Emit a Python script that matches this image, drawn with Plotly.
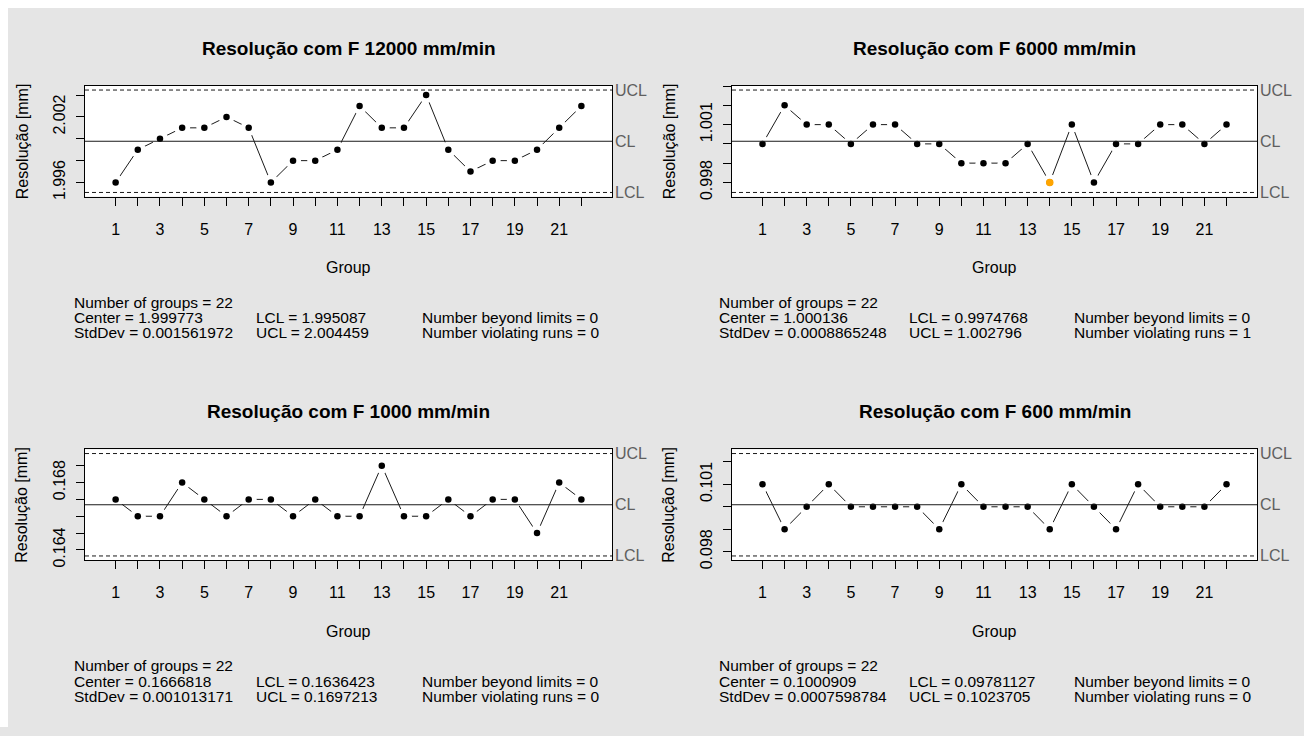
import plotly.graph_objects as go

W, H = 1304, 736

# ---------------- data ----------------
groups = list(range(1, 23))
xtick_text = ["1", "", "3", "", "5", "", "7", "", "9", "", "11", "", "13", "", "15", "", "17", "", "19", "", "21", ""]

titles = ["Resolução com F 12000 mm/min", "Resolução com F 6000 mm/min",
          "Resolução com F 1000 mm/min", "Resolução com F 600 mm/min"]

res_12000 = [1.996, 1.999, 2.000, 2.001, 2.001, 2.002, 2.001, 1.996, 1.998, 1.998, 1.999,
             2.003, 2.001, 2.001, 2.004, 1.999, 1.997, 1.998, 1.998, 1.999, 2.001, 2.003]
res_6000 = [1.000, 1.002, 1.001, 1.001, 1.000, 1.001, 1.001, 1.000, 1.000, 0.999, 0.999,
            0.999, 1.000, 0.998, 1.001, 0.998, 1.000, 1.000, 1.001, 1.001, 1.000, 1.001]
res_1000 = [0.167, 0.166, 0.166, 0.168, 0.167, 0.166, 0.167, 0.167, 0.166, 0.167, 0.166,
            0.166, 0.169, 0.166, 0.166, 0.167, 0.166, 0.167, 0.167, 0.165, 0.168, 0.167]
res_600 = [0.101, 0.099, 0.100, 0.101, 0.100, 0.100, 0.100, 0.100, 0.099, 0.101, 0.100,
           0.100, 0.100, 0.099, 0.101, 0.100, 0.099, 0.101, 0.100, 0.100, 0.100, 0.101]

violating_groups = [[], [14], [], []]

centers = [1.999773, 1.000136, 0.1666818, 0.1000909]
lcls = [1.995087, 0.9974768, 0.1636423, 0.09781127]
ucls = [2.004459, 1.002796, 0.1697213, 0.1023705]
stddevs = [0.001561972, 0.0008865248, 0.001013171, 0.0007598784]
n_beyond = [0, 0, 0, 0]
n_violating = [0, 1, 0, 0]

ytick_vals_12000 = [1.996, 1.998, 2.000, 2.002, 2.004]
ytick_text_12000 = ["1.996", "", "", "2.002", ""]
ytick_vals_6000 = [0.998, 0.999, 1.000, 1.001, 1.002, 1.003]
ytick_text_6000 = ["0.998", "", "", "1.001", "", ""]
ytick_vals_1000 = [0.164, 0.165, 0.166, 0.167, 0.168, 0.169]
ytick_text_1000 = ["0.164", "", "", "", "0.168", ""]
ytick_vals_600 = [0.098, 0.099, 0.100, 0.101, 0.102]
ytick_text_600 = ["0.098", "", "", "0.101", ""]

series = [res_12000, res_6000, res_1000, res_600]
ytick_vals = [ytick_vals_12000, ytick_vals_6000, ytick_vals_1000, ytick_vals_600]
ytick_texts = [ytick_text_12000, ytick_text_6000, ytick_text_1000, ytick_text_600]

# ---------------- layout geometry (pixels) ----------------
boxes = [(85, 612, 87, 199), (732, 1257, 87, 199), (85, 612, 455, 567), (732, 1257, 455, 567)]
stat_cols = [(72, 254, 420), (717, 907, 1072), (72, 254, 420), (717, 907, 1072)]

FONT = "Arial, 'Liberation Sans', sans-serif"
BG = "#E5E5E5"
GRAY = "#5f5f5f"


def fx(px):
    return px / W


def fy(py):
    return 1 - py / H


fig = go.Figure()
annotations = []
shapes = []
layout_axes = {}

for i in range(4):
    k = "" if i == 0 else str(i + 1)
    xa, ya = "x" + k, "y" + k
    x0, x1, y0, y1 = boxes[i]
    vals = series[i]
    lo = min(min(vals), lcls[i])
    hi = max(max(vals), ucls[i])
    pad = 0.04 * (hi - lo)
    nx = len(groups)
    xpad = 0.04 * nx

    # connecting lines
    fig.add_trace(go.Scatter(x=groups, y=vals, mode="lines", xaxis=xa, yaxis=ya,
                             line=dict(color="#1a1a1a", width=1), hoverinfo="skip",
                             showlegend=False))
    # white halo to create R type="b" gaps
    fig.add_trace(go.Scatter(x=groups, y=vals, mode="markers", xaxis=xa, yaxis=ya,
                             marker=dict(color="white", size=16, line=dict(width=0)),
                             hoverinfo="skip", showlegend=False))
    # points
    fig.add_trace(go.Scatter(x=groups, y=vals, mode="markers", xaxis=xa, yaxis=ya,
                             marker=dict(color="black", size=6.5, line=dict(width=0)),
                             showlegend=False))
    if violating_groups[i]:
        vx = violating_groups[i]
        vy = [vals[g - 1] for g in vx]
        fig.add_trace(go.Scatter(x=vx, y=vy, mode="markers", xaxis=xa, yaxis=ya,
                                 marker=dict(color="#FFA500", size=7.5, line=dict(width=0)),
                                 showlegend=False))

    layout_axes["xaxis" + k] = dict(
        domain=[fx(x0), fx(x1)], anchor=ya, range=[0.5 - xpad, nx + 0.5 + xpad],
        tickmode="array", tickvals=groups, ticktext=xtick_text,
        ticks="outside", ticklen=8, tickcolor="black", tickwidth=1,
        showline=True, mirror=True, linecolor="black", linewidth=1,
        showgrid=False, zeroline=False, tickfont=dict(family=FONT, size=16, color="black"),
        ticklabelstandoff=10, fixedrange=True)
    layout_axes["yaxis" + k] = dict(
        domain=[fy(y1), fy(y0)], anchor=xa, range=[lo - pad, hi + pad],
        tickmode="array", tickvals=ytick_vals[i], ticktext=ytick_texts[i], tickangle=-90,
        ticks="outside", ticklen=8, tickcolor="black", tickwidth=1,
        showline=True, mirror=True, linecolor="black", linewidth=1,
        showgrid=False, zeroline=False, tickfont=dict(family=FONT, size=16, color="black"),
        ticklabelstandoff=5, fixedrange=True)

    # control lines
    for val, dash in ((ucls[i], "4px,3px"), (lcls[i], "4px,3px"), (centers[i], "solid")):
        shapes.append(dict(type="line", xref=xa + " domain", x0=0, x1=1, yref=ya, y0=val, y1=val,
                           line=dict(color="#1a1a1a", width=1, dash=dash), layer="above"))
    for val, lab in ((ucls[i], "UCL"), (centers[i], "CL"), (lcls[i], "LCL")):
        annotations.append(dict(text=lab, xref="paper", x=fx(x1 + 1), xanchor="left",
                                yref=ya, y=val, yanchor="middle", showarrow=False,
                                font=dict(family=FONT, size=16, color=GRAY)))

    cx = (x0 + x1) / 2
    # title
    annotations.append(dict(text="<b>" + titles[i] + "</b>", xref="paper", yref="paper",
                            x=fx(cx), y=fy(y0 - 38), xanchor="center", yanchor="middle",
                            showarrow=False, font=dict(family=FONT, size=19, color="black")))
    # x title
    annotations.append(dict(text="Group", xref="paper", yref="paper", x=fx(cx), y=fy(y1 + 72),
                            xanchor="center", yanchor="middle", showarrow=False,
                            font=dict(family=FONT, size=16, color="black")))
    # y title
    annotations.append(dict(text="Resolução [mm]", xref="paper", yref="paper",
                            x=fx(x0 - 63), y=fy((y0 + y1) / 2), xanchor="center", yanchor="middle",
                            textangle=-90, showarrow=False,
                            font=dict(family=FONT, size=16, color="black")))
    # stats
    c1, c2, c3 = stat_cols[i]
    base = y1 + 107
    lines = [
        (c1, base, "Number of groups = %d" % len(vals)),
        (c1, base + 15.5, "Center = %s" % repr(centers[i])),
        (c1, base + 31, "StdDev = %s" % repr(stddevs[i])),
        (c2, base + 15.5, "LCL = %s" % repr(lcls[i])),
        (c2, base + 31, "UCL = %s" % repr(ucls[i])),
        (c3, base + 15.5, "Number beyond limits = %d" % n_beyond[i]),
        (c3, base + 31, "Number violating runs = %d" % n_violating[i]),
    ]
    for px, py, t in lines:
        annotations.append(dict(text=t, xref="paper", yref="paper", x=fx(px), y=fy(py),
                                xanchor="left", yanchor="middle", showarrow=False,
                                font=dict(family=FONT, size=15.5, color="black")))

# white page margin strips (left and top)
shapes.append(dict(type="rect", xref="paper", yref="paper", x0=0, x1=fx(8), y0=0, y1=1,
                   fillcolor="white", line=dict(width=0), layer="below"))
shapes.append(dict(type="rect", xref="paper", yref="paper", x0=0, x1=1, y0=fy(8), y1=1,
                   fillcolor="white", line=dict(width=0), layer="below"))

fig.update_layout(
    width=W, height=H, autosize=False,
    margin=dict(l=0, r=0, t=0, b=0, pad=0),
    paper_bgcolor=BG, plot_bgcolor="white",
    showlegend=False, annotations=annotations, shapes=shapes,
    font=dict(family=FONT, size=16, color="black"),
    **layout_axes,
)

fig.write_html("out.html", config={"displayModeBar": False},
               post_script="document.body.style.margin='0px';document.body.style.overflow='hidden';")
